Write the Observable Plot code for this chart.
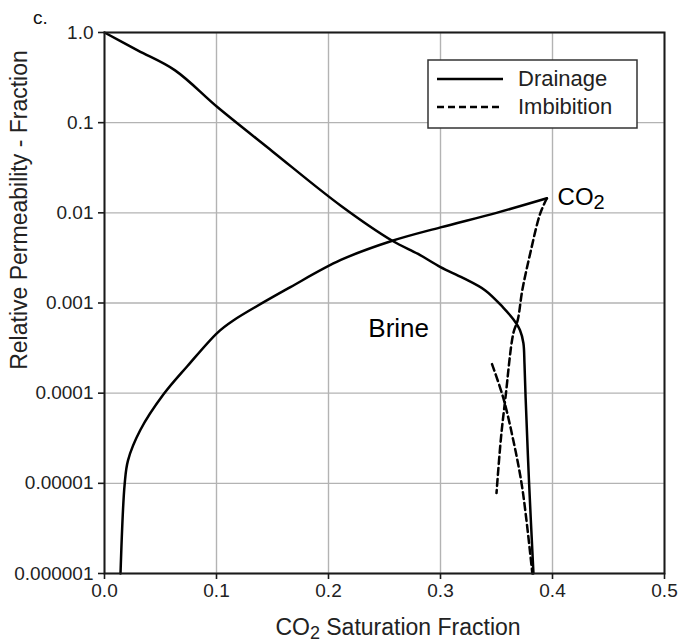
<!DOCTYPE html>
<html>
<head>
<meta charset="utf-8">
<script src="https://cdn.jsdelivr.net/npm/d3@7"></script>
<script src="https://cdn.jsdelivr.net/npm/@observablehq/plot@0.6"></script>
<style>
  html, body { margin: 0; padding: 0; background: #fff; }
  #chart { width: 680px; height: 642px; position: relative; }
</style>
</head>
<body>
<div id="chart"></div>
<script>
// ---- tick values and labels ----
const xTicks = [0, 0.1, 0.2, 0.3, 0.4, 0.5];
const xTickLabels = ["0.0", "0.1", "0.2", "0.3", "0.4", "0.5"];
const yTicks = [1, 0.1, 0.01, 0.001, 0.0001, 0.00001, 0.000001];
const yTickLabels = ["1.0", "0.1", "0.01", "0.001", "0.0001", "0.00001", "0.000001"];

// ---- series (CO2 saturation fraction, relative permeability) ----
const brineDrainageX = [0, 0.030, 0.063, 0.101, 0.150, 0.211, 0.257, 0.280, 0.300, 0.320, 0.340, 0.356, 0.365, 0.371, 0.374, 0.375, 0.376, 0.379, 0.383];
const brineDrainageY = [1, 0.63, 0.38, 0.148, 0.048, 0.012, 0.0049, 0.0035, 0.0025, 0.0019, 0.00138, 0.00089, 0.00066, 0.0005, 0.00036, 0.00021, 0.000089, 0.0000107, 0.000001];

const co2DrainageX = [0.0143, 0.018, 0.021, 0.032, 0.0527, 0.0741, 0.101, 0.115, 0.166, 0.211, 0.257, 0.300, 0.350, 0.395];
const co2DrainageY = [0.000001, 0.0000098, 0.000018, 0.000039, 0.000097, 0.0002, 0.00047, 0.00064, 0.0015, 0.0030, 0.0049, 0.0069, 0.0100, 0.0145];

const co2ImbibitionX = [0.395, 0.389, 0.380, 0.373, 0.369, 0.365, 0.358, 0.354, 0.350];
const co2ImbibitionY = [0.0145, 0.0098, 0.0035, 0.00138, 0.00065, 0.00046, 0.000089, 0.000032, 0.0000078];

const brineImbibitionX = [0.346, 0.356, 0.365, 0.373, 0.382];
const brineImbibitionY = [0.00021, 0.000089, 0.00003, 0.0000089, 0.000001];

// ---- annotation texts and anchors (data space) ----
const annoLabels = ["Brine", "CO2"];
const annoX = [0.236, 0.405];
const annoY = [0.00041, 0.012];

const legendLabels = ["Drainage", "Imbibition"];

// ---- build tables ----
function toRows(xs, ys, series) { return xs.map((x, i) => ({ x, y: ys[i], series })); }
const solidRows = [
  ...toRows(brineDrainageX, brineDrainageY, "Brine drainage"),
  ...toRows(co2DrainageX, co2DrainageY, "CO2 drainage")
];
const dashedRows = [
  ...toRows(co2ImbibitionX, co2ImbibitionY, "CO2 imbibition"),
  ...toRows(brineImbibitionX, brineImbibitionY, "Brine imbibition")
];

const FONT = "'Liberation Sans', Arial, Helvetica, sans-serif";
const GRID = "#b3b3b3";
const DASH = "7,4";

const chart = Plot.plot({
  width: 680,
  height: 642,
  marginLeft: 104,
  marginRight: 16,
  marginTop: 32,
  marginBottom: 69,
  style: { fontFamily: FONT, fontSize: "19px", color: "#222", background: "#fff", overflow: "visible" },
  x: { domain: [0, 0.5], label: null },
  y: { type: "log", domain: [0.000001, 1], label: null },
  marks: [
    Plot.gridX(xTicks, { stroke: GRID, strokeOpacity: 1, strokeWidth: 1.4 }),
    Plot.gridY(yTicks, { stroke: GRID, strokeOpacity: 1, strokeWidth: 1.4 }),
    Plot.line(solidRows, { x: "x", y: "y", z: "series", stroke: "#000", strokeWidth: 2.5, curve: "catmull-rom" }),
    Plot.line(dashedRows, { x: "x", y: "y", z: "series", stroke: "#000", strokeWidth: 2.5, strokeDasharray: DASH, curve: "catmull-rom" }),
    Plot.frame({ stroke: "#1a1a1a", strokeWidth: 2 }),
    Plot.axisX(xTicks, { tickSize: 6, tickPadding: 4, stroke: "#1a1a1a", strokeWidth: 1.6, fill: "#222", fontSize: 19,
      tickFormat: d => xTickLabels[xTicks.indexOf(d)] }),
    Plot.axisY(yTicks, { tickSize: 6, tickPadding: 5, stroke: "#1a1a1a", strokeWidth: 1.6, fill: "#222", fontSize: 19,
      tickFormat: d => yTickLabels[yTicks.indexOf(d)] })
  ]
});

document.getElementById("chart").appendChild(chart);

const svg = d3.select(chart);
const sx = chart.scale("x"), sy = chart.scale("y");

// annotation labels
annoLabels.forEach((t, i) => {
  const px = sx.apply(annoX[i]), py = sy.apply(annoY[i]);
  const txt = svg.append("text").attr("x", px).attr("y", py)
    .attr("text-anchor", "start").attr("fill", "#000").style("font-family", FONT);
  if (t === "CO2") {
    txt.style("font-size", "24px");
    txt.append("tspan").text("CO");
    txt.append("tspan").text("2").attr("dy", 4).style("font-size", "20px");
  } else {
    txt.style("font-size", "26px").text(t);
  }
});

// panel letter
svg.append("text").attr("x", 33).attr("y", 24).attr("text-anchor", "start").attr("fill", "#111")
  .style("font-family", FONT).style("font-size", "19px").text("c.");

// y axis title
svg.append("text")
  .attr("transform", "translate(27,210) rotate(-90)")
  .attr("text-anchor", "middle").attr("fill", "#222")
  .style("font-family", FONT).style("font-size", "23px")
  .text("Relative Permeability - Fraction");

// x axis title
const xt = svg.append("text").attr("x", 398).attr("y", 635)
  .attr("text-anchor", "middle").attr("fill", "#222")
  .style("font-family", FONT).style("font-size", "23px");
xt.append("tspan").text("CO");
xt.append("tspan").text("2").attr("dy", 4).style("font-size", "18px");
xt.append("tspan").text(" Saturation Fraction").attr("dy", -4);

// legend box
const lg = svg.append("g");
lg.append("rect").attr("x", 428).attr("y", 60).attr("width", 209).attr("height", 68)
  .attr("fill", "#fff").attr("stroke", "#333").attr("stroke-width", 1.5);
legendLabels.forEach((t, i) => {
  const y = 79 + i * 28;
  lg.append("line").attr("x1", 437).attr("x2", 503).attr("y1", y).attr("y2", y)
    .attr("stroke", "#000").attr("stroke-width", 2.5)
    .attr("stroke-dasharray", i === 1 ? DASH : null);
  lg.append("text").attr("x", 518).attr("y", y + 7).attr("text-anchor", "start").attr("fill", "#222")
    .style("font-family", FONT).style("font-size", "22px").text(t);
});
</script>
</body>
</html>
